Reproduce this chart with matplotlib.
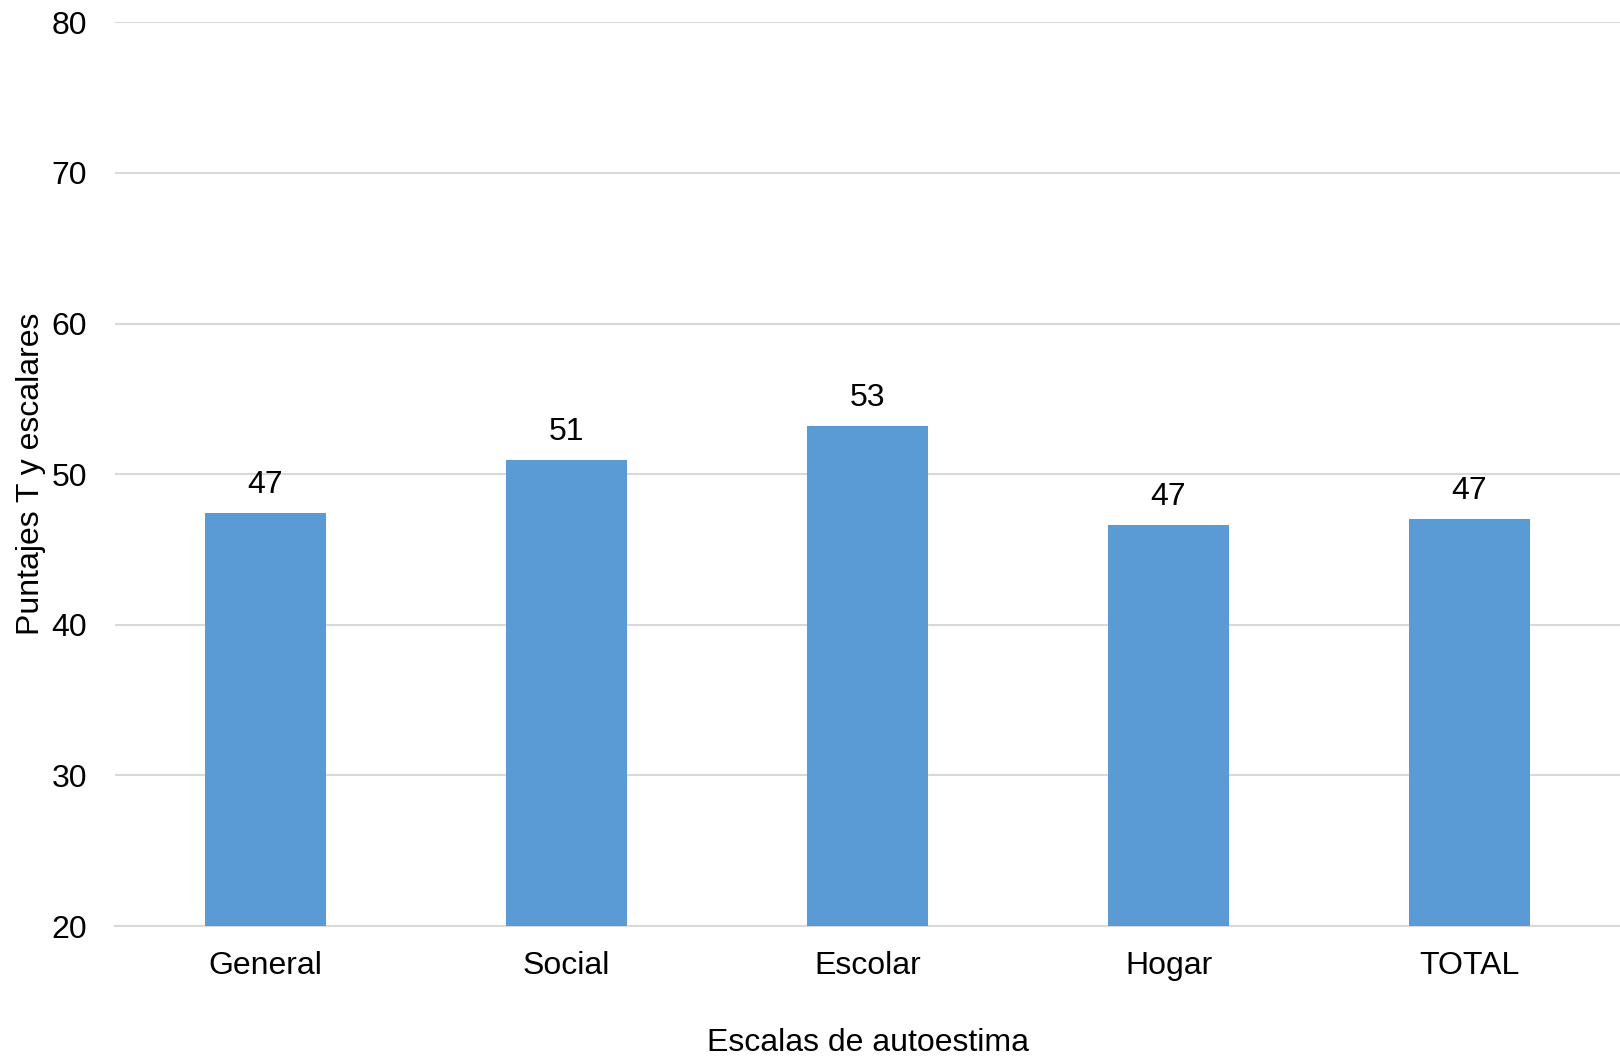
import matplotlib.pyplot as plt
import numpy as np

plt.rcParams['font.family'] = ['Liberation Sans', 'DejaVu Sans']

# Puntajes por escala de autoestima
escalas = ['General', 'Social', 'Escolar', 'Hogar', 'TOTAL']
puntajes = [47.45, 50.95, 53.2, 46.65, 47.05]
y_ticks = [20, 30, 40, 50, 60, 70, 80]

fig = plt.figure(figsize=(16.2, 10.62), dpi=100)
ax = fig.add_axes([0.071, 0.128, 0.929, 0.851])

x = np.arange(len(escalas))
bars = ax.bar(x, puntajes, width=0.4, color='#5b9bd5', zorder=3)

# etiquetas de valor sobre cada barra
for rect, val in zip(bars, puntajes):
    ax.annotate(f'{val:.0f}', (rect.get_x() + rect.get_width() / 2, val),
                xytext=(0, 9), textcoords='offset points',
                ha='center', va='bottom', fontsize=23, color='black')

ax.set_xlim(-0.5, len(escalas) - 0.5)
ax.set_ylim(20, 80)
ax.set_yticks(y_ticks)
ax.set_xticks(x)
ax.set_xticklabels(escalas)
ax.tick_params(axis='both', length=0, labelsize=23, colors='black')
ax.tick_params(axis='y', pad=20)
ax.tick_params(axis='x', pad=18)

ax.grid(axis='y', color='#d9d9d9', linewidth=1.5, zorder=0)
for s in ['top', 'right', 'left']:
    ax.spines[s].set_visible(False)
ax.spines['bottom'].set_color('#d9d9d9')
ax.spines['bottom'].set_linewidth(1.5)

ax.set_xlabel('Escalas de autoestima', fontsize=23, labelpad=34)
ax.set_ylabel('Puntajes T y escalares', fontsize=23, labelpad=4)

fig.savefig('out.png', dpi=100)
